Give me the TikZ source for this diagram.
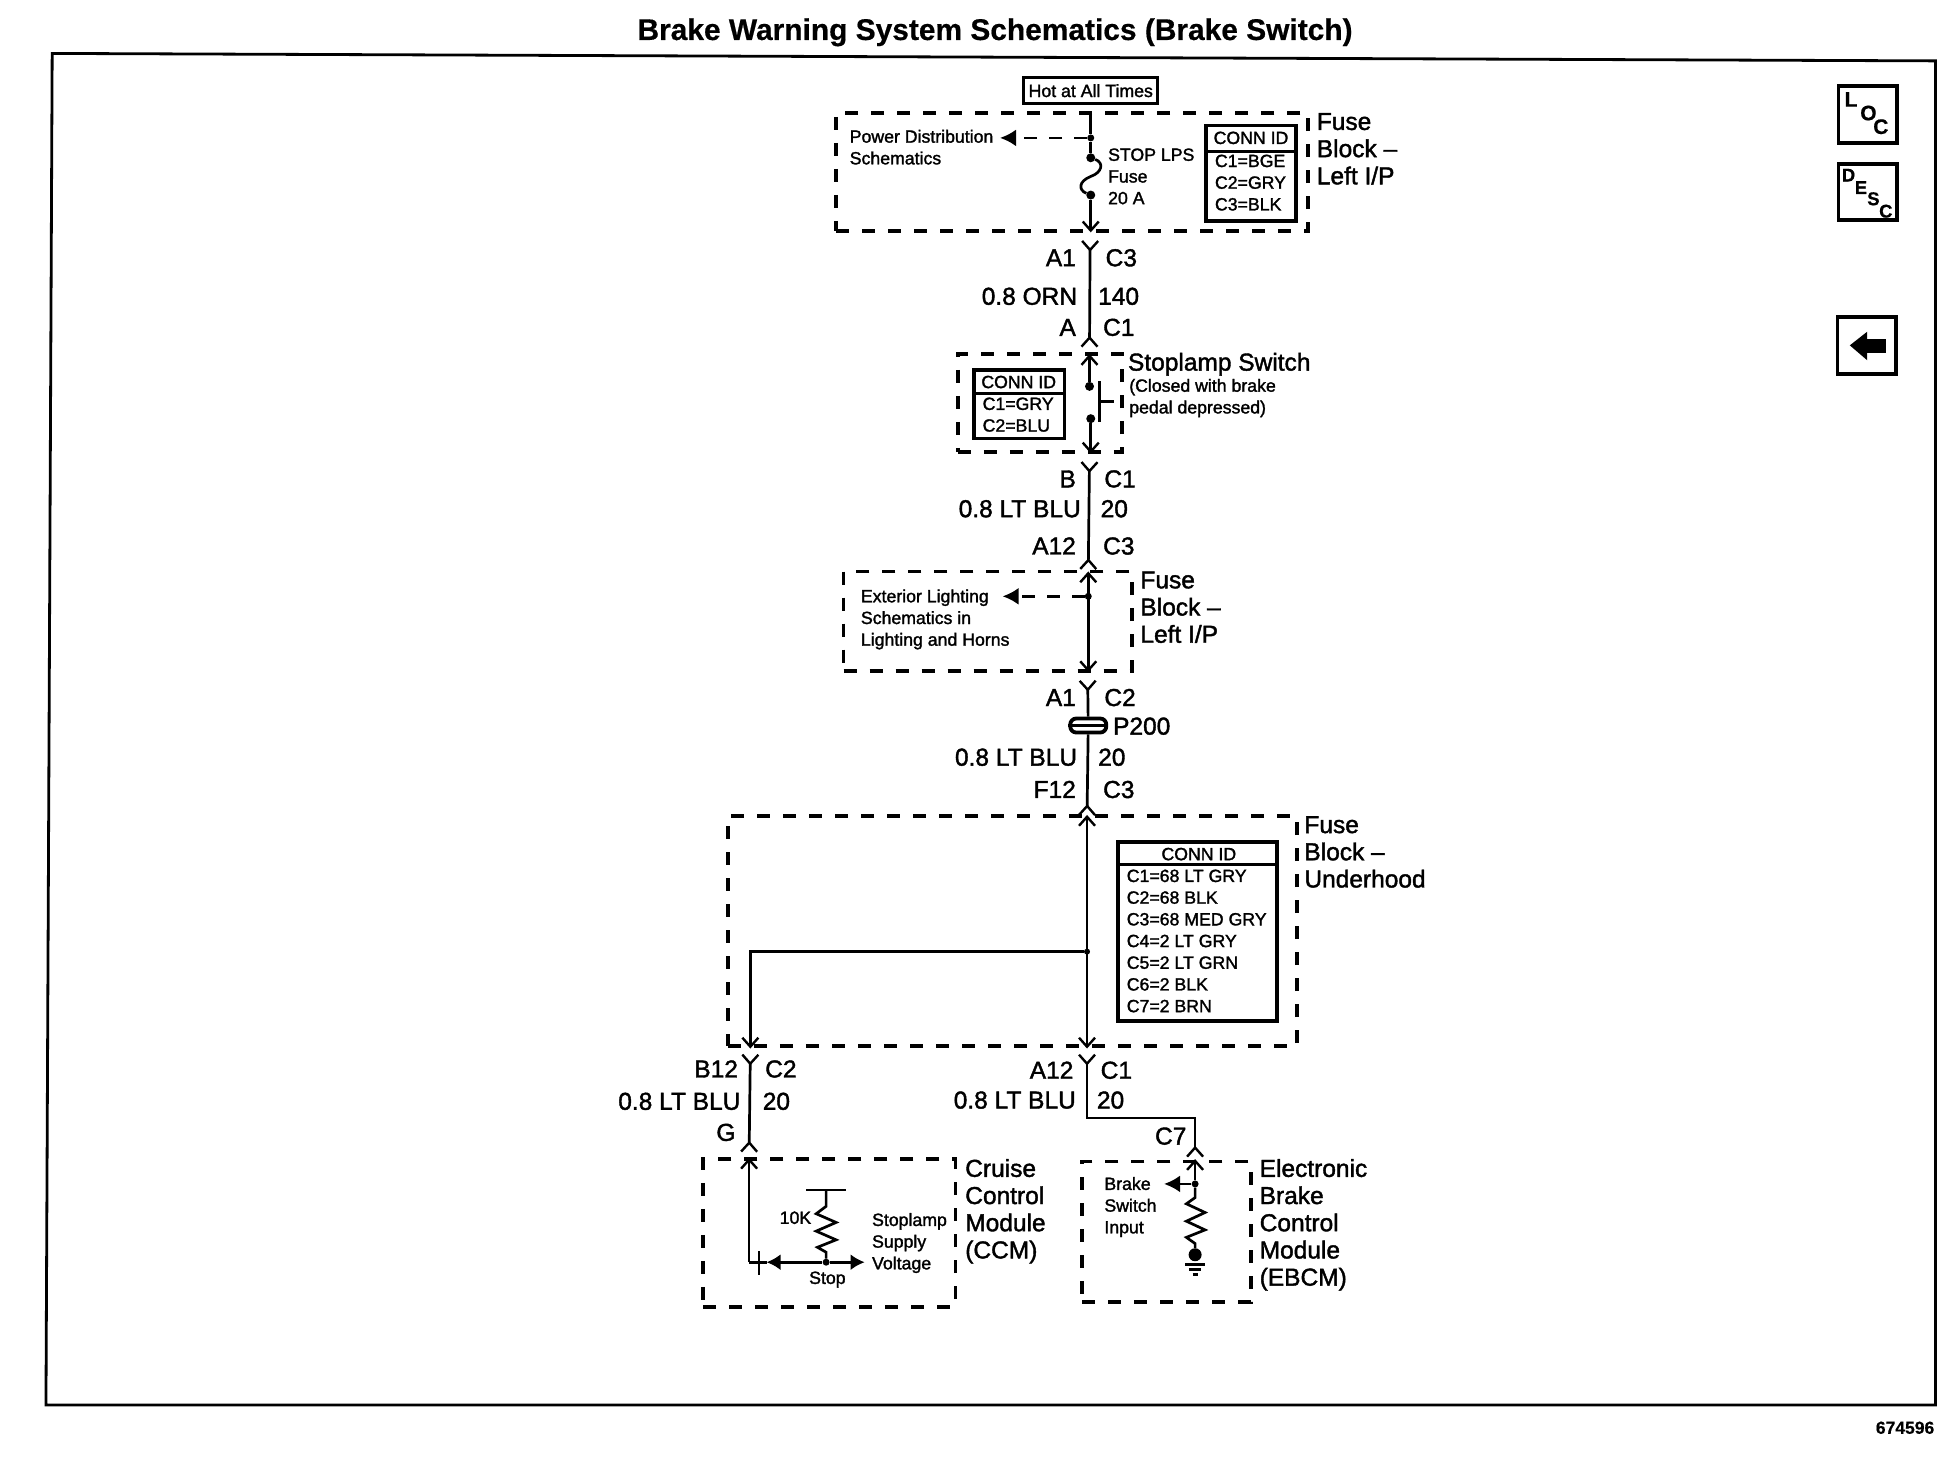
\documentclass[tikz,border=0pt]{standalone}
\usepackage{fontspec}
\setmainfont[RawFeature={embolden=1.6}]{Liberation Sans}
\newfontfamily\boldface[RawFeature={embolden=0.5}]{Liberation Sans Bold}
\usetikzlibrary{arrows.meta,fit,calc}
\newcommand{\bigsz}{\fontsize{24.5}{27.2}\selectfont}
\newcommand{\smallsz}{\fontsize{17.7}{21.7}\selectfont}
\tikzset{
  ink/.style={line cap=butt,line join=miter,color=black},
  wire/.style={ink,line width=2.7pt},
  regionbox/.style={draw,line width=3.6pt,dash pattern=on 13pt off 13pt,inner sep=0pt,rectangle},
  connbox/.style={draw,line width=3.6pt,inner sep=0pt,rectangle},
  btn/.style={draw,line width=3.6pt,inner sep=0pt,rectangle},
  txt/.style={inner sep=0pt,outer sep=0pt,align=left},
  big/.style={txt,font=\bigsz},
  bigm/.style={big,yshift=-5.2pt},
  small/.style={txt,font=\smallsz},
  fork/.tip={Straight Barb[reversed,length=9pt,width=16pt,line width=2.4pt]},
  barb/.tip={Straight Barb[length=9pt,width=16pt,line width=2.4pt]},
  solidhead/.tip={Latex[length=16pt,width=17pt]},
  blob/.style={circle,fill,inner sep=0pt,minimum size=9pt},
  dashw/.style={wire,dash pattern=on 13pt off 12pt},
}
\newcommand{\myregion}[5]{%
  \coordinate (#1a) at (#2,#3); \coordinate (#1b) at (#4,#5);
  \node[regionbox,fit=(#1a)(#1b)] (#1) {};}
\newcommand{\myconn}[5]{%
  \coordinate (#1a) at (#2,#3); \coordinate (#1b) at (#4,#5);
  \node[connbox,fit=(#1a)(#1b)] (#1) {};}
\newcommand{\mybtn}[5]{%
  \coordinate (#1a) at (#2,#3); \coordinate (#1b) at (#4,#5);
  \node[btn,fit=(#1a)(#1b)] (#1) {};}
\begin{document}
\begin{tikzpicture}[x=1.2423pt,y=-1.2423pt]
\useasboundingbox (0,0) rectangle (1568.06,1184.9);
% title and frame
\node[txt,font=\fontsize{29.9}{32}\boldface] (title) at (801,26) {Brake Warning System Schematics (Brake Switch)};
\coordinate (f1) at (42,43); \coordinate (f2) at (1558,49); \coordinate (f3) at (1558,1131); \coordinate (f4) at (37,1131);
\draw[ink,line width=2.8pt] (f1) -- (f2) -- (f3) -- (f4) -- cycle;
\node[txt,anchor=mid east,font=\fontsize{17.5}{20}\boldface] (partno) at (1557,1152) {674596};
% side buttons
\mybtn{loc}{1480}{69}{1527}{115}
\node[txt,font=\fontsize{21}{21}\boldface] (locL) at (1490,80) {L};
\node[txt,font=\fontsize{21}{21}\boldface] (locO) at (1504,91) {O};
\node[txt,font=\fontsize{21}{21}\boldface] (locC) at (1514,102) {C};
\mybtn{desc}{1480}{132}{1527}{177}
\node[txt,font=\fontsize{18.5}{20}\boldface] (descD) at (1488,141) {D};
\node[txt,font=\fontsize{18.5}{20}\boldface] (descE) at (1498,151) {E};
\node[txt,font=\fontsize{18.5}{20}\boldface] (descS) at (1508,160) {S};
\node[txt,font=\fontsize{18.5}{20}\boldface] (descC) at (1518,170) {C};
\mybtn{back}{1479}{255}{1526}{301}
\fill[ink] (1489,278) -- (1503,267) -- (1503,273) -- (1518,273) -- (1518,284) -- (1503,284) -- (1503,290) -- cycle;
% Hot at all times
\node[connbox,line width=3pt,font=\smallsz,minimum width=134pt,minimum height=26pt] (hot) at (878,73) {Hot at All Times};
% Fuse block 1
\myregion{rA}{673}{91}{1053}{186}
\coordinate (wA1) at (878,92); \coordinate (wA2) at (878,187);
\node[blob,minimum size=7pt] (jA) at (878,111) {};
\node[blob] (fA1) at (878,127) {};
\node[blob] (fA2) at (878,157) {};
\draw[wire] (wA1) -- (jA) -- (fA1);
\draw[wire] (fA1) .. controls (889,131) and (887,139) .. (878,142) .. controls (868,146) and (868,153) .. (fA2);
\draw[wire,-barb] (fA2) -- (wA2);
\draw[dashw,-{solidhead}] (jA) -- (805,111);
\node[small,anchor=north west] (tA) at (684,104.5) {Power Distribution\\Schematics};
\node[small,anchor=north west] (tB) at (892,119.5) {STOP LPS\\Fuse\\20 A};
\myconn{cA}{971}{101}{1043}{178}
\draw[wire] (cA.west |- 0,122) -- (cA.east |- 0,122);
\node[small] (cAh) at (1007,111) {CONN ID};
\node[small,anchor=north west] (cAt) at (978,124.5) {C1=BGE\\C2=GRY\\C3=BLK};
\node[big,anchor=north west] (lA) at (1060,91) {Fuse\\Block --\\Left I/P};
% wire 140
\coordinate (wB1) at (877.5,193); \coordinate (wB2) at (877,280);
\draw[wire,{fork}-{fork}] (wB1) -- (wB2);
\node[bigm,anchor=mid east] (a1) at (866,208) {A1};
\node[bigm,anchor=mid west] (c3) at (890,208) {C3};
\node[bigm,anchor=mid east] (orn) at (867,239) {0.8 ORN};
\node[bigm,anchor=mid west] (n140) at (884,239) {140};
\node[bigm,anchor=mid east] (aa) at (866,264) {A};
\node[bigm,anchor=mid west] (c1) at (888,264) {C1};
% Stoplamp switch
\myregion{rB}{771}{285}{903}{364}
\node[blob] (sw1) at (877,311) {};
\node[blob] (sw2) at (878,337) {};
\coordinate (wC1) at (877,285); \coordinate (wC2) at (878,365);
\draw[wire,-barb] (sw1) -- (wC1);
\draw[wire,-barb] (sw2) -- (wC2);
\coordinate (bar1) at (885,307); \coordinate (bar2) at (885,340); \coordinate (bar3) at (885,323); \coordinate (bar4) at (897,323);
\draw[wire] (bar1) -- (bar2);
\draw[wire] (bar3) -- (bar4);
\myconn{cB}{784}{298}{857}{353}
\draw[wire] (cB.west |- 0,317) -- (cB.east |- 0,317);
\node[small] (cBh) at (820,307.5) {CONN ID};
\node[small,anchor=north west] (cBt) at (791,320) {C1=GRY\\C2=BLU};
\node[bigm,anchor=mid west] (lB) at (908,292) {Stoplamp Switch};
\node[small,anchor=north west] (tC) at (909,305) {(Closed with brake\\pedal depressed)};
% wire 20
\coordinate (wD1) at (877,371); \coordinate (wD2) at (876,459);
\draw[wire,{fork}-{fork}] (wD1) -- (wD2);
\node[bigm,anchor=mid east] (b) at (866,386) {B};
\node[bigm,anchor=mid west] (c1b) at (889,386) {C1};
\node[bigm,anchor=mid east] (blu1) at (870,410) {0.8 LT BLU};
\node[bigm,anchor=mid west] (n20a) at (886,410) {20};
\node[bigm,anchor=mid east] (a12) at (866,440) {A12};
\node[bigm,anchor=mid west] (c3b) at (888,440) {C3};
% Fuse block 2
\myregion{rC}{679}{460}{911}{540}
\coordinate (wE1) at (876,460); \coordinate (wE2) at (876,541);
\node[blob,minimum size=7pt] (jC) at (876,480) {};
\draw[wire,barb-barb] (wE1) -- (wE2);
\draw[dashw,-{solidhead}] (jC) -- (807,480);
\node[small,anchor=north west] (tD) at (693,474.5) {Exterior Lighting\\Schematics in\\Lighting and Horns};
\node[big,anchor=north west] (lC) at (918,460) {Fuse\\Block --\\Left I/P};
% wire P200
\coordinate (wF1) at (875.5,547); \coordinate (wF2) at (875,657);
\node[draw,fill=white,line width=3.8pt,rounded corners=6pt,minimum width=36pt,minimum height=14pt,inner sep=0pt] (p200) at (876,584) {};
\draw[wire,{fork}-] (wF1) -- (p200);
\draw[wire,-{fork}] (p200) -- (wF2);
\draw[wire] (p200.west) -- (p200.east);
\node[bigm,anchor=mid west] (p) at (896,585) {P200};
\node[bigm,anchor=mid east] (a1b) at (866,562) {A1};
\node[bigm,anchor=mid west] (c2) at (889,562) {C2};
\node[bigm,anchor=mid east] (blu2) at (867,610) {0.8 LT BLU};
\node[bigm,anchor=mid west] (n20b) at (884,610) {20};
\node[bigm,anchor=mid east] (f12) at (866,636) {F12};
\node[bigm,anchor=mid west] (c3c) at (888,636) {C3};
% Fuse block underhood
\myregion{rD}{586}{657}{1044}{842}
\coordinate (wG1) at (875,656); \coordinate (wG2) at (875,844);
\node[blob,minimum size=6pt] (jD) at (875,766) {};
\coordinate (wH1) at (604,766); \coordinate (wH2) at (604,844);
\draw[wire,barb-barb] (wG1) -- (wG2);
\draw[wire,-barb] (jD) -- (wH1) -- (wH2);
\myconn{cD}{900}{678}{1028}{822}
\draw[wire] (cD.west |- 0,696) -- (cD.east |- 0,696);
\node[small] (cDh) at (965,687.5) {CONN ID};
\node[small,anchor=north west] (cDt) at (907,700) {C1=68 LT GRY\\C2=68 BLK\\C3=68 MED GRY\\C4=2 LT GRY\\C5=2 LT GRN\\C6=2 BLK\\C7=2 BRN};
\node[big,anchor=north west] (lD) at (1050,657) {Fuse\\Block --\\Underhood};
% lower left wire
\coordinate (wI1) at (604,848); \coordinate (wI2) at (603,928);
\draw[wire,{fork}-{fork}] (wI1) -- (wI2);
\node[bigm,anchor=mid east] (b12) at (594,861) {B12};
\node[bigm,anchor=mid west] (c2b) at (616,861) {C2};
\node[bigm,anchor=mid east] (blu3) at (596,887) {0.8 LT BLU};
\node[bigm,anchor=mid west] (n20c) at (614,887) {20};
\node[bigm,anchor=mid east] (g) at (592,912) {G};
% lower right wire
\coordinate (wJ1) at (875,848); \coordinate (wJ2) at (875,900); \coordinate (wJ3) at (962,900); \coordinate (wJ4) at (962,932);
\draw[wire,{fork}-{fork}] (wJ1) -- (wJ2) -- (wJ3) -- (wJ4);
\node[bigm,anchor=mid east] (a12b) at (864,862) {A12};
\node[bigm,anchor=mid west] (c1c) at (886,862) {C1};
\node[bigm,anchor=mid east] (blu4) at (866,886) {0.8 LT BLU};
\node[bigm,anchor=mid west] (n20d) at (883,886) {20};
\node[bigm,anchor=mid east] (c7) at (955,915) {C7};
% CCM
\myregion{rE}{566}{933}{769}{1052}
\coordinate (wK1) at (603,932); \coordinate (wK2) at (603,1016);
\coordinate (dio) at (617,1016);
\node[blob,minimum size=7pt] (jE) at (665,1016) {};
\coordinate (wK3) at (696,1016);
\draw[wire,-barb] (wK2) -- (wK1);
\draw[wire] (wK2) -- (dio);
\draw[wire,-{solidhead[length=14pt,width=16pt]}] (jE) -- (dio);
\draw[wire,-{solidhead[length=14pt,width=16pt]}] (jE) -- (wK3);
\draw[wire] (611,1007) -- (611,1026);
\coordinate (rT) at (665,958);
\draw[wire] (649,958) -- (681,958);
\draw[wire] (rT) -- (665,971) -- (657,977) -- (673,984) -- (657,991) -- (673,998) -- (658,1004) -- (665,1008) -- (jE);
\node[small,anchor=mid east] (r10k) at (653,983) {10K};
\node[small] (stop) at (666,1030) {Stop};
\node[small,anchor=north west] (tE) at (702,976.5) {Stoplamp\\Supply\\Voltage};
\node[big,anchor=north west] (lE) at (777,933) {Cruise\\Control\\Module\\(CCM)};
% EBCM
\myregion{rF}{871}{935}{1007}{1048}
\coordinate (wL1) at (962,933);
\node[blob,minimum size=7pt] (jF) at (962,953) {};
\draw[wire,-barb] (jF) -- (wL1);
\draw[wire,-{solidhead}] (jF) -- (937,953);
\node[blob,minimum size=13pt] (gnd) at (962,1010) {};
\draw[wire] (jF) -- (962,964) -- (955,969) -- (970,976) -- (955,983) -- (970,990) -- (955,996) -- (962,1001) -- (gnd);
\draw[wire] (954,1018) -- (970,1018);
\draw[wire] (957,1022) -- (967,1022);
\draw[wire] (960,1026) -- (964,1026);
\node[small,anchor=north west] (tF) at (889,947.5) {Brake\\Switch\\Input};
\node[big,anchor=north west] (lF) at (1014,933) {Electronic\\Brake\\Control\\Module\\(EBCM)};
\end{tikzpicture}
\end{document}
